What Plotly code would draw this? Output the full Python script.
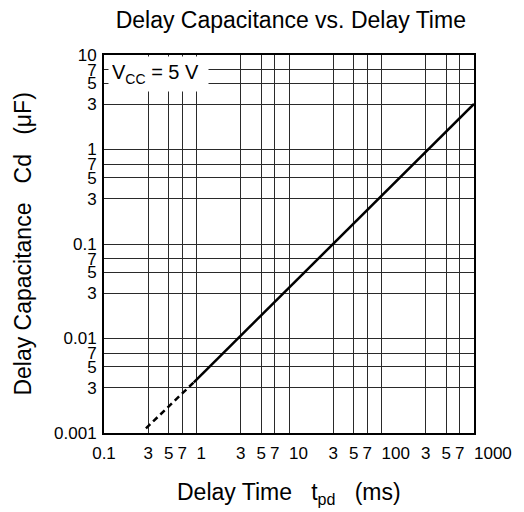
import plotly.graph_objects as go

# ---- data ----
x_ticks = [0.1, 0.3, 0.5, 0.7, 1, 3, 5, 7, 10, 30, 50, 70, 100, 300, 500, 700, 1000]
x_tick_labels = ["0.1", "3", "5", "7", "1", "3", "5", "7", "10", "3", "5", "7",
                 "100", "3", "5", "7", "1000"]
y_ticks = [0.001, 0.003, 0.005, 0.007, 0.01, 0.03, 0.05, 0.07, 0.1, 0.3, 0.5, 0.7,
           1, 3, 5, 7, 10]
y_tick_labels = ["0.001", "3", "5", "7", "0.01", "3", "5", "7", "0.1", "3", "5", "7",
                 "1", "3", "5", "7", "10"]

solid_t = [0.935, 1000]
solid_cd = [0.00344, 3.03]
dashed_t = [0.284, 0.935]
dashed_cd = [0.00112, 0.00344]

FONT = "Liberation Sans, Arial, Helvetica, sans-serif"

# powers of ten (>=1) are printed starting at their grid line
FS = "\u2007"
x_text = [(FS * len(t) + t) if t in ("1", "10", "100", "1000") else t for t in x_tick_labels]

fig = go.Figure()
fig.add_trace(go.Scatter(x=dashed_t, y=dashed_cd, mode="lines",
                         line=dict(color="black", width=2.5, dash="6px,4px"),
                         showlegend=False, hoverinfo="skip"))
fig.add_trace(go.Scatter(x=solid_t, y=solid_cd, mode="lines",
                         line=dict(color="black", width=2.5),
                         showlegend=False, hoverinfo="skip"))

axis_common = dict(
    type="log", showgrid=True, gridcolor="#2a2a2a", gridwidth=1,
    showline=True, linecolor="black", linewidth=2, mirror=True,
    ticks="", tickfont=dict(family=FONT, size=17, color="black"),
    tickmode="array", zeroline=False, tickangle=0,
)

fig.update_xaxes(range=[-1, 3], tickvals=x_ticks, ticktext=x_text,
                 ticklabelstandoff=4, **axis_common)
fig.update_yaxes(range=[-3, 1], tickvals=y_ticks, ticktext=y_tick_labels,
                 ticklabelstandoff=2, **axis_common)

fig.update_layout(
    width=524, height=512,
    margin=dict(l=104, r=42, t=55, b=79),
    paper_bgcolor="white", plot_bgcolor="white",
    font=dict(family=FONT, color="black"),
    hovermode=False,
    title=dict(text="Delay Capacitance vs. Delay Time",
               font=dict(family=FONT, size=23, color="black"),
               x=0.555, xanchor="center", y=0.962, yanchor="middle"),
    annotations=[
        dict(text="V<sub>CC</sub> = 5 V", xref="paper", yref="paper",
             x=0.012, y=0.997, xanchor="left", yanchor="top",
             showarrow=False, bgcolor="white", borderpad=3,
             width=93, height=28, align="left",
             font=dict(family=FONT, size=20, color="black")),
        dict(text="Delay Capacitance\u00a0\u00a0\u00a0Cd\u00a0\u00a0\u00a0(\u03bcF)",
             xref="paper", yref="paper", x=-0.22, y=0.5,
             xanchor="center", yanchor="middle", textangle=-90,
             showarrow=False, font=dict(family=FONT, size=23, color="black")),
        dict(text="Delay Time\u00a0\u00a0\u00a0t<sub>pd</sub>\u00a0\u00a0\u00a0(ms)",
             xref="paper", yref="paper", x=0.5, y=-0.16,
             xanchor="center", yanchor="middle",
             showarrow=False, font=dict(family=FONT, size=23, color="black")),
    ],
)

fig.write_html("out.html",
               config={"displayModeBar": False, "staticPlot": True},
               post_script="document.body.style.margin='0';document.body.style.padding='0';")
